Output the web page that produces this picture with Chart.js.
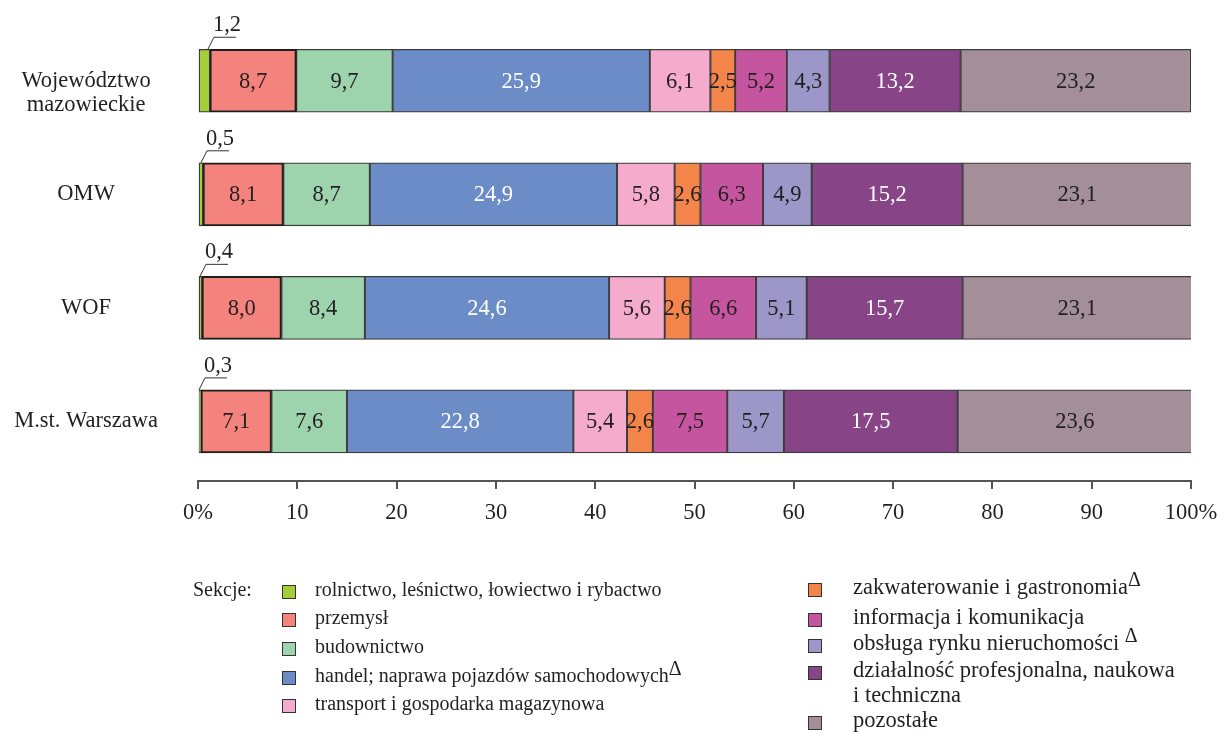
<html>

<head>
    <script src="https://cdn.jsdelivr.net/npm/chart.js"></script>
    <style>
        body {
            margin: 0;
            background: #fff;
        }

        #wrap {
            position: relative;
            width: 1218px;
            height: 734px;
        }

        .lg {
            position: absolute;
            font-family: "Liberation Serif";
            color: #231f20;
            white-space: nowrap;
        }

        .c0 {
            font-size: 20px;
            line-height: 24px;
        }

        .c1 {
            font-size: 22.5px;
            line-height: 25px;
        }

        .lg sup {
            font-size: 20px;
            position: relative;
            top: -7px;
            vertical-align: top;
        }

        .sq {
            position: absolute;
            width: 12px;
            height: 12px;
            border: 1px solid #333;
        }
    </style>
</head>

<body>
    <div id="wrap">
        <canvas id="chart" width="1218" height="734"></canvas>
    </div>

    <script>
        // categories (top to bottom)
        const regions = [['', 'Województwo', 'mazowieckie'], 'OMW', 'WOF', 'M.st. Warszawa'];

        // sections (legend names), delta mark flag
        const sections = [
            'rolnictwo, leśnictwo, łowiectwo i rybactwo',
            'przemysł',
            'budownictwo',
            'handel; naprawa pojazdów samochodowych',
            'transport i gospodarka magazynowa',
            'zakwaterowanie i gastronomia',
            'informacja i komunikacja',
            'obsługa rynku nieruchomości',
            'działalność profesjonalna, naukowa i techniczna',
            'pozostałe'
        ];
        const deltaMark = [false, false, false, true, false, true, false, true, false, false];

        const colors = ['#a4cd39', '#f4837d', '#9dd4ae', '#6b8cc7', '#f5abcc', '#f4854a', '#c6559f', '#9c97c8', '#874486', '#a38e99'];

        // share in % per section, rows = regions
        const rolnictwo = [1.2, 0.5, 0.4, 0.3];
        const przemysl = [8.7, 8.1, 8.0, 7.1];
        const budownictwo = [9.7, 8.7, 8.4, 7.6];
        const handel = [25.9, 24.9, 24.6, 22.8];
        const transport = [6.1, 5.8, 5.6, 5.4];
        const zakwaterowanie = [2.5, 2.6, 2.6, 2.6];
        const informacja = [5.2, 6.3, 6.6, 7.5];
        const nieruchomosci = [4.3, 4.9, 5.1, 5.7];
        const profesjonalna = [13.2, 15.2, 15.7, 17.5];
        const pozostale = [23.2, 23.1, 23.1, 23.6];

        const seriesValues = [rolnictwo, przemysl, budownictwo, handel, transport, zakwaterowanie, informacja, nieruchomosci, profesjonalna, pozostale];

        const xTicks = [0, 10, 20, 30, 40, 50, 60, 70, 80, 90, 100];

        const whiteText = [3, 8];
        const FONT = '"Liberation Serif", "Times New Roman", serif';
        const INK = '#231f20';

        const fmt = v => v.toFixed(1).replace('.', ',');

        const datasets = seriesValues.map((vals, s) => ({
            label: sections[s],
            data: vals.map((v, i) => ({ x: v, y: i })),
            backgroundColor: colors[s],
            borderColor: s === 1 ? '#1e1e1e' : '#3c3c3c',
            borderWidth: s === 1 ? 2 : 1.3,
            borderSkipped: false,
            barThickness: 63
        }));

        const segmentLabels = {
            id: 'segmentLabels',
            afterDatasetsDraw(chart) {
                const ctx = chart.ctx;
                ctx.save();
                ctx.font = '22.5px ' + FONT;
                chart.data.datasets.forEach((ds, di) => {
                    const meta = chart.getDatasetMeta(di);
                    meta.data.forEach((bar, i) => {
                        const txt = fmt(ds.data[i].x);
                        if (di === 0) {
                            // small share: callout above the bar
                            const top = bar.y - bar.height / 2;
                            const sx = bar.x - 2;
                            const bx = sx + 6;
                            const by = top - 12;
                            ctx.strokeStyle = '#333';
                            ctx.lineWidth = 1;
                            ctx.beginPath();
                            ctx.moveTo(sx, top);
                            ctx.lineTo(bx, by);
                            ctx.lineTo(bx + 22, by);
                            ctx.stroke();
                            ctx.fillStyle = INK;
                            ctx.textAlign = 'left';
                            ctx.textBaseline = 'alphabetic';
                            ctx.fillText(txt, bx - 1, top - 18);
                        } else {
                            ctx.fillStyle = whiteText.includes(di) ? '#fff' : INK;
                            ctx.textAlign = 'center';
                            ctx.textBaseline = 'middle';
                            ctx.fillText(txt, (bar.x + bar.base) / 2, bar.y + 1);
                        }
                    });
                });
                ctx.restore();
            }
        };

        new Chart(document.getElementById('chart').getContext('2d'), {
            type: 'bar',
            data: { datasets: datasets },
            options: {
                indexAxis: 'y',
                responsive: false,
                animation: false,
                layout: { padding: { top: 24, right: 27, left: 0, bottom: 0 } },
                plugins: {
                    legend: { display: false },
                    tooltip: { enabled: false }
                },
                scales: {
                    x: {
                        type: 'linear',
                        stacked: true,
                        min: 0,
                        max: 100,
                        afterBuildTicks: s => { s.ticks = xTicks.map(v => ({ value: v })); },
                        afterFit: s => {
                            s.height = 253;
                            s.paddingLeft = 0;
                            s.paddingRight = 0;
                        },
                        ticks: {
                            callback: v => v === 0 ? '0%' : (v === 100 ? '100%' : String(v)),
                            font: { family: FONT, size: 22.5 },
                            color: INK,
                            padding: 11,
                            maxRotation: 0
                        },
                        grid: {
                            drawOnChartArea: false,
                            drawTicks: true,
                            tickLength: 8,
                            color: '#555',
                            lineWidth: 2
                        },
                        border: { display: true, color: '#555', width: 2 }
                    },
                    y: {
                        type: 'linear',
                        stacked: true,
                        reverse: true,
                        offset: false,
                        min: -0.5,
                        max: 3.525,
                        afterBuildTicks: s => { s.ticks = regions.map((r, i) => ({ value: i })); },
                        afterFit: s => {
                            s.width = 198;
                            s.paddingTop = 0;
                            s.paddingBottom = 0;
                        },
                        ticks: {
                            callback: v => regions[v],
                            font: { family: FONT, size: 22.5, lineHeight: 1.07 },
                            color: INK,
                            padding: 40,
                            crossAlign: 'center'
                        },
                        grid: { display: false, drawTicks: false, offset: false },
                        border: { display: false }
                    }
                }
            },
            plugins: [segmentLabels]
        });

        // legend (HTML, two columns)
        const wrap = document.getElementById('wrap');
        const legendCols = [
            { sqX: 282, txtX: 315, cls: 'c0', lift: 14 },
            { sqX: 808, txtX: 853, cls: 'c1', lift: 15 }
        ];
        // [column, text centre y] per section
        const legendPos = [[0, 591], [0, 619], [0, 648], [0, 677], [0, 705], [1, 589], [1, 619], [1, 645], [1, 672], [1, 722]];

        function addEl(cls, left, top, html, bg) {
            const d = document.createElement('div');
            d.className = cls;
            d.style.left = left + 'px';
            d.style.top = top + 'px';
            if (html !== null) d.innerHTML = html;
            if (bg) d.style.background = bg;
            wrap.appendChild(d);
        }

        addEl('lg c0', 193, 591 - 14, 'Sekcje:');
        sections.forEach((name, s) => {
            const [c, y] = legendPos[s];
            const col = legendCols[c];
            addEl('sq', col.sqX, y - 6, null, colors[s]);
            let html = name;
            if (s === 8) html = 'działalność profesjonalna, naukowa<br>i techniczna';
            if (deltaMark[s]) html += (s === 7 ? ' ' : '') + '<sup>Δ</sup>';
            addEl('lg ' + col.cls, col.txtX, y - col.lift, html);
        });
    </script>
</body>

</html>
